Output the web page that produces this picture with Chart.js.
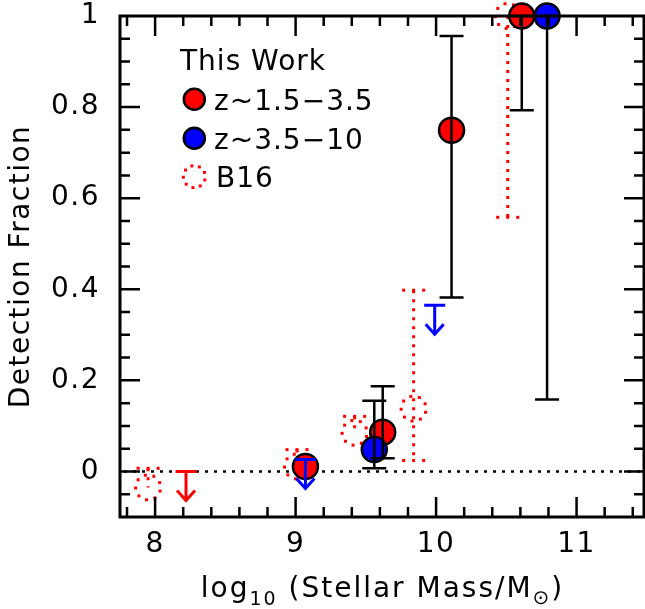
<!DOCTYPE html>
<html><head><meta charset="utf-8">
<script src="https://cdn.jsdelivr.net/npm/chart.js@4.4.1/dist/chart.umd.min.js"></script>
<style>html,body{margin:0;padding:0;background:#fff;}</style>
</head><body>
<canvas id="c" width="645" height="609"></canvas>
<script>
// ---- data ----
const xTicks = [8, 9, 10, 11];
const xTickLabels = ['8', '9', '10', '11'];
const yTicks = [0, 0.2, 0.4, 0.6, 0.8, 1];
const yTickLabels = ['0', '0.2', '0.4', '0.6', '0.8', '1'];

// This Work, z~1.5-3.5 (red)
const redX  = [9.07, 9.62, 10.11, 10.61];
const redY  = [0.011, 0.086, 0.749, 1.0];
const redLo = [null, 0.029, 0.382, 0.793];
const redHi = [null, 0.187, 0.956, 1.0];
// This Work, z~3.5-10 (blue)
const blueX  = [9.56, 10.79];
const blueY  = [0.048, 1.0];
const blueLo = [0.007, 0.158];
const blueHi = [0.155, 1.0];
// upper limits
const redLimX  = [8.22];
const redLimY  = [0.0];
const blueLimX = [9.07, 9.99];
const blueLimY = [0.026, 0.365];
// B16 (red dotted)
const b16X  = [7.95, 9.01, 9.42, 9.84, 10.51];
const b16Y  = [-0.035, 0.011, 0.085, 0.138, 1.0];
const b16Lo = [-0.035, 0.011, 0.085, 0.024, 0.558];
const b16Hi = [0.007, 0.048, 0.121, 0.398, 1.0];

const FONT = '"DejaVu Sans", sans-serif';
const toPts = (xs, ys) => xs.map((v, i) => ({x: v, y: ys[i]}));

function dottedCircle(ctx, cx, cy, r, n) {
  for (let i = 0; i < n; i++) {
    const a = i / n * 2 * Math.PI + 0.3;
    ctx.fillRect(cx + r * Math.cos(a) - 1.5, cy + r * Math.sin(a) - 1.5, 3, 3);
  }
}

const custom = {
  id: 'custom',
  beforeDraw(chart) {
    if ('letterSpacing' in chart.ctx) chart.ctx.letterSpacing = '1.5px';
  },
  beforeDatasetsDraw(chart) {
    const {ctx, chartArea: a, scales: {x, y}} = chart;
    ctx.save();
    // dotted zero line
    ctx.strokeStyle = '#000'; ctx.lineWidth = 2.5; ctx.setLineDash([3, 6]);
    const y0 = y.getPixelForValue(0);
    ctx.beginPath(); ctx.moveTo(a.left + 4, y0); ctx.lineTo(a.right, y0); ctx.stroke();
    // B16
    ctx.strokeStyle = '#f00'; ctx.fillStyle = '#f00'; ctx.lineWidth = 3;
    for (let i = 0; i < b16X.length; i++) {
      const px = x.getPixelForValue(b16X[i]);
      const py = y.getPixelForValue(b16Y[i]);
      const pl = y.getPixelForValue(b16Lo[i]);
      const ph = y.getPixelForValue(b16Hi[i]);
      ctx.setLineDash([3, 6]);
      ctx.beginPath(); ctx.moveTo(px, ph); ctx.lineTo(px, pl); ctx.stroke();
      if (b16Hi[i] !== b16Y[i]) for (const d of [-10, 0, 10]) ctx.fillRect(px + d - 1.5, ph - 1.5, 3, 3);
      if (b16Lo[i] !== b16Y[i]) for (const d of [-10, 0, 10]) ctx.fillRect(px + d - 1.5, pl - 1.5, 3, 3);
      dottedCircle(ctx, px, py, 12.5, 9);
    }
    ctx.restore();
  },
  afterDatasetsDraw(chart) {
    const {ctx, scales: {x, y}} = chart;
    ctx.save();
    ctx.setLineDash([]);
    ctx.strokeStyle = '#000'; ctx.lineWidth = 2.5;
    const bars = (xs, lo, hi) => {
      for (let i = 0; i < xs.length; i++) {
        if (lo[i] === null) continue;
        const px = x.getPixelForValue(xs[i]);
        const pl = y.getPixelForValue(lo[i]);
        const ph = y.getPixelForValue(hi[i]);
        ctx.beginPath();
        ctx.moveTo(px, ph); ctx.lineTo(px, pl);
        ctx.moveTo(px - 12, ph); ctx.lineTo(px + 12, ph);
        ctx.moveTo(px - 12, pl); ctx.lineTo(px + 12, pl);
        ctx.stroke();
      }
    };
    bars(redX, redLo, redHi);
    bars(blueX, blueLo, blueHi);
    const limits = (xs, ys, col) => {
      ctx.strokeStyle = col; ctx.lineWidth = 3;
      for (let i = 0; i < xs.length; i++) {
        const px = x.getPixelForValue(xs[i]);
        const py = y.getPixelForValue(ys[i]);
        const tip = py + 29;
        ctx.beginPath();
        ctx.moveTo(px - 10.5, py); ctx.lineTo(px + 10.5, py);
        ctx.moveTo(px, py); ctx.lineTo(px, tip);
        ctx.moveTo(px - 9, tip - 10); ctx.lineTo(px, tip); ctx.lineTo(px + 9, tip - 10);
        ctx.stroke();
      }
    };
    limits(redLimX, redLimY, '#f00');
    limits(blueLimX, blueLimY, '#00f');
    ctx.restore();
  },
  afterDraw(chart) {
    const {ctx, chartArea: a, scales: {x, y}} = chart;
    ctx.save();
    ctx.setLineDash([]);
    ctx.strokeStyle = '#000';
    // inward ticks on all four sides
    ctx.lineWidth = 2.5;
    ctx.beginPath();
    for (let k = 78; k <= 114; k += 2) {
      const v = k / 10;
      const px = x.getPixelForValue(v);
      const L = (k % 10 === 0) ? 20 : 10;
      ctx.moveTo(px, a.bottom); ctx.lineTo(px, a.bottom - L);
      ctx.moveTo(px, a.top); ctx.lineTo(px, a.top + L);
    }
    for (let k = -5; k <= 95; k += 5) {
      const py = y.getPixelForValue(k / 100);
      const L = (k % 20 === 0) ? 20 : 10;
      ctx.moveTo(a.left, py); ctx.lineTo(a.left + L, py);
      ctx.moveTo(a.right, py); ctx.lineTo(a.right - L, py);
    }
    ctx.stroke();
    ctx.lineWidth = 3;
    ctx.strokeRect(a.left, a.top, a.right - a.left, a.bottom - a.top);

    // x-axis title with subscripts
    ctx.fillStyle = '#000';
    ctx.textBaseline = 'alphabetic'; ctx.textAlign = 'left';
    if ('letterSpacing' in ctx) ctx.letterSpacing = '2px';
    const segs = [['log', 28, 0], ['10', 19, 8], [' (Stellar Mass/M', 28, 0], ['\u2299', 20, 7], [')', 28, 0]];
    let total = 0;
    for (const s of segs) { ctx.font = s[1] + 'px ' + FONT; total += ctx.measureText(s[0]).width; }
    let cx = 382.5 - total / 2;
    const base = 597;
    for (const s of segs) {
      ctx.font = s[1] + 'px ' + FONT;
      ctx.fillText(s[0], cx, base + s[2]);
      cx += ctx.measureText(s[0]).width;
    }
    if ('letterSpacing' in ctx) ctx.letterSpacing = '1px';

    // legend
    ctx.font = '28px ' + FONT;
    ctx.fillText('This Work', 180, 70);
    ctx.lineWidth = 2.5;
    ctx.fillStyle = '#f00';
    ctx.beginPath(); ctx.arc(194.3, 99.3, 10.5, 0, 2 * Math.PI); ctx.fill(); ctx.stroke();
    ctx.fillStyle = '#00f';
    ctx.beginPath(); ctx.arc(194.3, 138.3, 10.5, 0, 2 * Math.PI); ctx.fill(); ctx.stroke();
    ctx.fillStyle = '#f00';
    dottedCircle(ctx, 194.3, 176.7, 11, 9);
    ctx.fillStyle = '#000';
    ctx.fillText('z~1.5\u22123.5', 214, 110);
    ctx.fillText('z~3.5\u221210', 214, 149);
    ctx.fillText('B16', 216, 187);
    ctx.restore();
  }
};

const pointStyle = (col) => ({
  backgroundColor: col, borderColor: '#000', borderWidth: 2.5,
  pointRadius: 12.5, pointHoverRadius: 12.5, pointHoverBorderWidth: 2.5, clip: false, showLine: false
});

const noPad = (s) => { s.paddingTop = 0; s.paddingBottom = 0; s.paddingLeft = 0; s.paddingRight = 0; };

new Chart(document.getElementById('c'), {
  type: 'scatter',
  data: {
    datasets: [
      Object.assign({label: 'z~3.5\u221210', data: toPts(blueX, blueY)}, pointStyle('#0000ff')),
      Object.assign({label: 'z~1.5\u22123.5', data: toPts(redX, redY)}, pointStyle('#ff0000')),
      {label: 'B16', data: toPts(b16X, b16Y), pointRadius: 0, pointHoverRadius: 0},
      {label: 'red limits', data: toPts(redLimX, redLimY), pointRadius: 0, pointHoverRadius: 0},
      {label: 'blue limits', data: toPts(blueLimX, blueLimY), pointRadius: 0, pointHoverRadius: 0}
    ]
  },
  options: {
    responsive: false,
    animation: false,
    events: [],
    layout: {autoPadding: false, padding: {left: 0, right: 1, top: 16, bottom: 0}},
    plugins: {legend: {display: false}, tooltip: {enabled: false}},
    scales: {
      x: {
        type: 'linear', min: 7.75, max: 11.48,
        grid: {display: false, drawTicks: false}, border: {display: false},
        afterBuildTicks: (s) => { s.ticks = xTicks.map(v => ({value: v})); },
        afterFit: (s) => { s.height = 92; noPad(s); },
        ticks: {padding: 14, color: '#000', font: {family: FONT, size: 28, lineHeight: 1},
                maxRotation: 0, autoSkip: false, callback: (v, i) => xTickLabels[i]}
      },
      y: {
        type: 'linear', min: -0.1, max: 1,
        grid: {display: false, drawTicks: false}, border: {display: false},
        afterBuildTicks: (s) => { s.ticks = yTicks.map(v => ({value: v})); },
        afterFit: (s) => { s.width = 120; noPad(s); },
        ticks: {padding: 20, color: '#000', font: {family: FONT, size: 28, lineHeight: 1},
                autoSkip: false, callback: (v, i) => yTickLabels[i]},
        title: {display: true, text: 'Detection Fraction', color: '#000',
                font: {family: FONT, size: 28, lineHeight: 1.2}, padding: {top: 5, bottom: 0}}
      }
    }
  },
  plugins: [custom]
});
</script>
</body></html>
